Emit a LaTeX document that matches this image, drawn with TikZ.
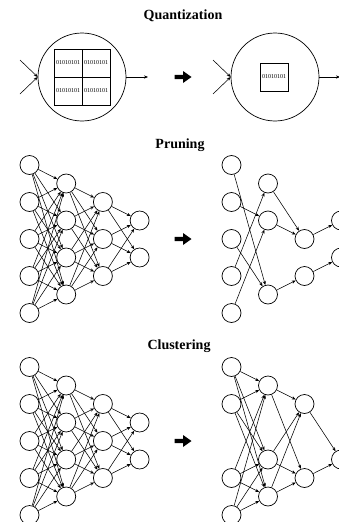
\documentclass[tikz,border=0pt]{standalone}
\usepackage{fontspec}
\setmainfont{Liberation Serif}
\usetikzlibrary{arrows.meta}
\tikzset{
  neuron/.style={circle,draw,line width=0.7pt,minimum size=19pt,inner sep=0pt},
  edge/.style={line width=0.55pt,-{Stealth[length=4pt,width=3.2pt]}},
  titletext/.style={font=\fontsize{14}{15}\selectfont\bfseries,inner sep=0pt},
  bits/.style={font=\fontsize{6}{6}\selectfont,inner sep=0pt},
  bigcircle/.style={circle,draw,line width=0.7pt,minimum size=88pt,inner sep=0pt},
  cellbox/.style={draw,line width=0.9pt,minimum size=28pt,inner sep=0pt},
  bigarr/.pic={\fill (-8.5,-2.2) -- (0,-2.2) -- (0,-6) -- (8.5,0) -- (0,6) -- (0,2.2) -- (-8.5,2.2) -- cycle;}
}
\begin{document}
\begin{tikzpicture}[x=1pt,y=-1pt]
\useasboundingbox (0,0) rectangle (339,522);

% ---------------- Quantization ----------------
\node[titletext] (tq) at (183,16) {Quantization};

\node[bigcircle] (qc1) at (82,77) {};
\node[bigcircle] (qc2) at (275,77) {};
% 2x2 grid
\node[cellbox] (g11) at (68,63) {};
\node[cellbox] (g12) at (96,63) {};
\node[cellbox] (g21) at (68,91) {};
\node[cellbox] (g22) at (96,91) {};
\node[bits] (b11) at (g11) {01010101};
\node[bits] (b12) at (g12) {01010101};
\node[bits] (b21) at (g21) {01010101};
\node[bits] (b22) at (g22) {01010101};
% single cell
\node[cellbox] (gs) at (274,77) {};
\node[bits] (bs) at (gs) {01010101};

\coordinate (qi1) at (20,60);
\coordinate (qi2) at (20,94);
\coordinate (qo1) at (148,77);
\coordinate (qi3) at (213,60);
\coordinate (qi4) at (213,94);
\coordinate (qo2) at (340,77);
\draw[edge] (qi1) -- (qc1.west);
\draw[edge] (qi2) -- (qc1.west);
\draw[edge] (qc1.east) -- (qo1);
\draw[edge] (qi3) -- (qc2.west);
\draw[edge] (qi4) -- (qc2.west);
\draw[edge] (qc2.east) -- (qo2);
\pic at (183,77) {bigarr};

% ---------------- Pruning / Clustering titles ----------------
\node[titletext] (tp) at (180,145) {Pruning};
\node[titletext] (tc) at (179,346) {Clustering};

% full networks (left) for both sections
\foreach \s/\Y in {p/239, c/441} {
  \foreach \k in {1,...,5} \node[neuron] (\s a\k) at (29.5, \Y+\k*37-3*37) {};
  \foreach \k in {1,...,4} \node[neuron] (\s b\k) at (66.2, \Y+\k*37-2.5*37) {};
  \foreach \k in {1,...,3} \node[neuron] (\s c\k) at (102.9, \Y+\k*37-2*37) {};
  \foreach \k in {1,...,2} \node[neuron] (\s d\k) at (139.6, \Y+\k*37-1.5*37) {};
  \foreach \i in {1,...,5} \foreach \j in {1,...,4} \draw[edge] (\s a\i) -- (\s b\j);
  \foreach \i in {1,...,4} \foreach \j in {1,...,3} \draw[edge] (\s b\i) -- (\s c\j);
  \foreach \i in {1,...,3} \foreach \j in {1,...,2} \draw[edge] (\s c\i) -- (\s d\j);
}

% pruned network (right)
\foreach \k in {1,...,5} \node[neuron] (qa\k) at (231.5, 239+\k*37-3*37) {};
\foreach \k in {1,2,4} \node[neuron] (qb\k) at (268, 239+\k*37-2.5*37) {};
\foreach \k in {2,3} \node[neuron] (qcc\k) at (304.5, 239+\k*37-2*37) {};
\foreach \k in {1,2} \node[neuron] (qd\k) at (341, 239+\k*37-1.5*37) {};
\draw[edge] (qa1) -- (qb4);
\draw[edge] (qa2) -- (qb2);
\draw[edge] (qa3) -- (qb4);
\draw[edge] (qa4) -- (qb1);
\draw[edge] (qa5) -- (qb2);
\draw[edge] (qb1) -- (qcc2);
\draw[edge] (qb2) -- (qcc2);
\draw[edge] (qb4) -- (qcc3);
\draw[edge] (qcc2) -- (qd1);
\draw[edge] (qcc3) -- (qd2);
\pic at (183,239) {bigarr};

% clustered network (right)
\foreach \k in {1,2,4,5} \node[neuron] (ka\k) at (231.5, 441+\k*37-3*37) {};
\foreach \k in {1,3,4} \node[neuron] (kb\k) at (268, 441+\k*37-2.5*37) {};
\foreach \k in {1,3} \node[neuron] (kc\k) at (304.5, 441+\k*37-2*37) {};
\foreach \k in {2} \node[neuron] (kd\k) at (341, 441+\k*37-1.5*37) {};
\foreach \i in {1,2,4,5} \foreach \j in {1,3,4} \draw[edge] (ka\i) -- (kb\j);
\foreach \i in {1,3,4} \foreach \j in {1,3} \draw[edge] (kb\i) -- (kc\j);
\foreach \i in {1,3} \draw[edge] (kc\i) -- (kd2);
\pic at (183,441) {bigarr};
\end{tikzpicture}
\end{document}
